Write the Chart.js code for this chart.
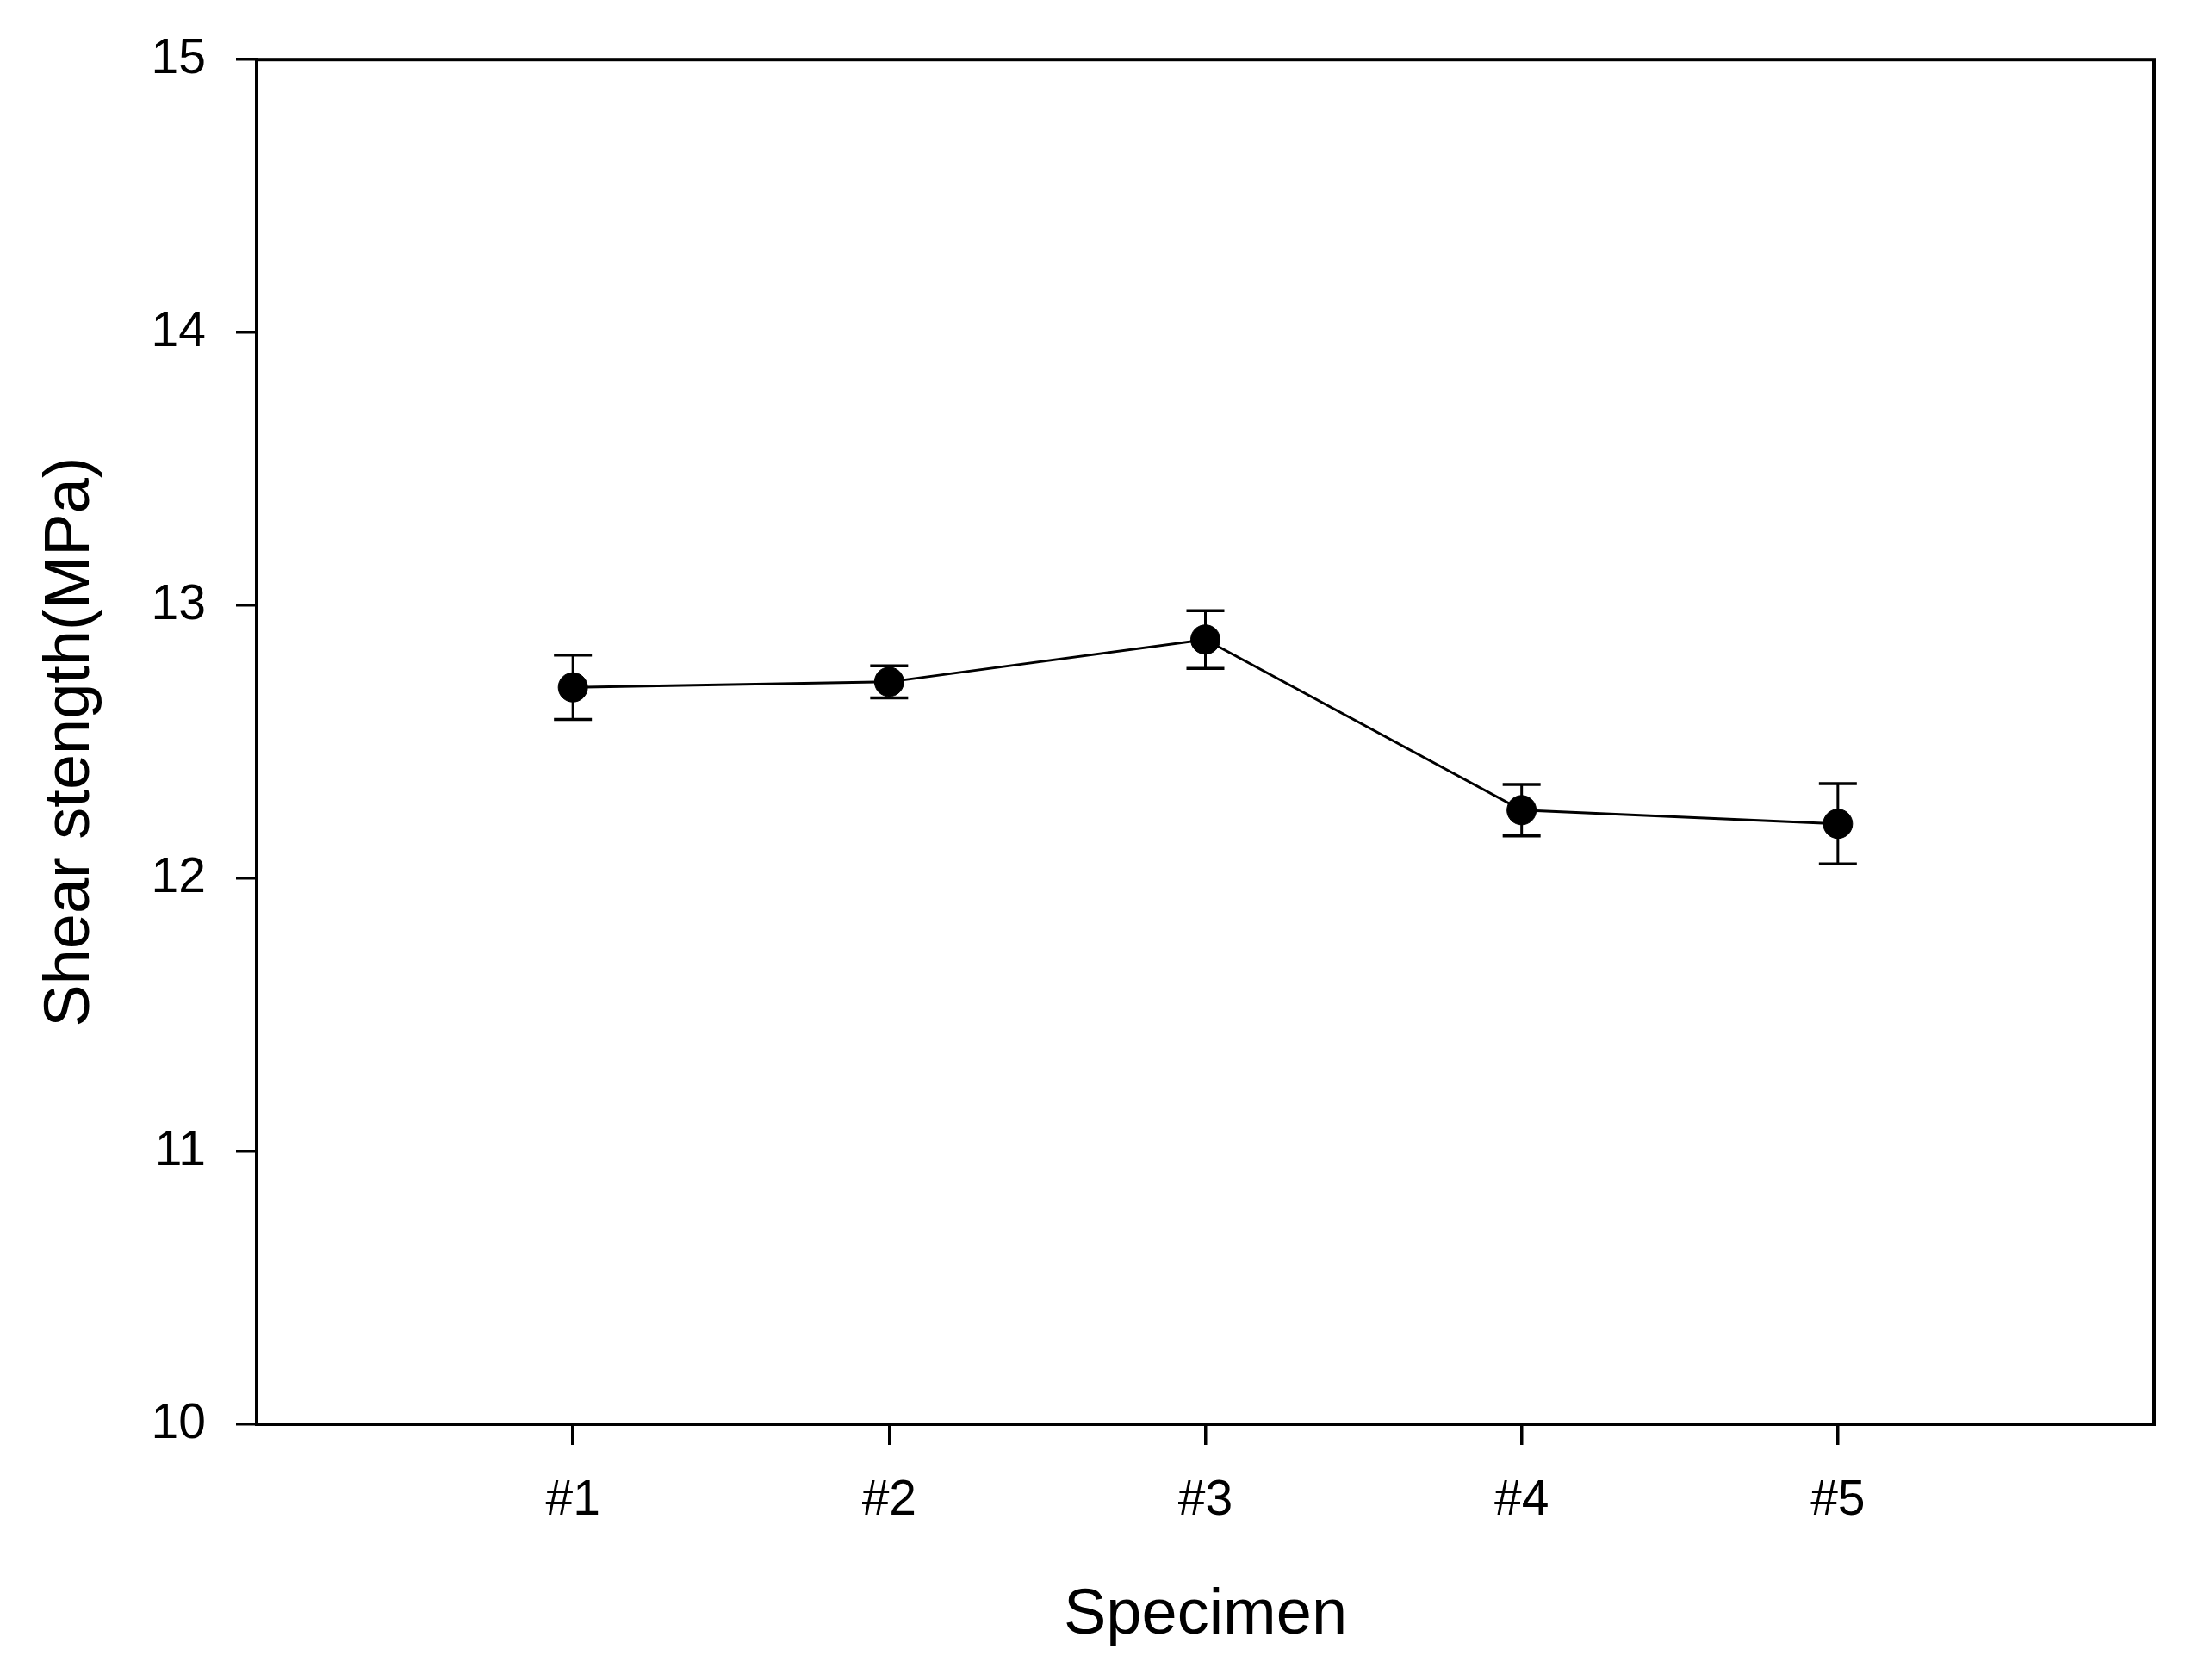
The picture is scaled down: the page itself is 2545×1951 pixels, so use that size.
<!DOCTYPE html>
<html>
<head>
<meta charset="utf-8">
<script src="https://cdn.jsdelivr.net/npm/chart.js@4.4.0/dist/chart.umd.min.js"></script>
<style>
    html, body { margin: 0; padding: 0; background: #fff; }
    #wrap { width: 2545px; height: 1951px; }
</style>
</head>
<body>
<div id="wrap"><canvas id="shearChart" width="2545" height="1951"></canvas></div>
<script>
// data
var categories = ['#1', '#2', '#3', '#4', '#5'];
var strength = [12.70, 12.72, 12.875, 12.25, 12.20];
var strengthErr = [0.118, 0.059, 0.106, 0.094, 0.147];
var yTicks = [10, 11, 12, 13, 14, 15];

var fontFamily = "'Liberation Sans', Arial, sans-serif";

// error bars drawn with the chart's own scales
var errorBars = {
    id: 'errorBars',
    afterDatasetsDraw: function (chart) {
        var xs = chart.scales.x, ys = chart.scales.y, ctx = chart.ctx;
        ctx.save();
        ctx.strokeStyle = '#000';
        strength.forEach(function (v, i) {
            var px = xs.getPixelForValue(i + 1);
            var top = ys.getPixelForValue(v + strengthErr[i]);
            var bot = ys.getPixelForValue(v - strengthErr[i]);
            ctx.lineWidth = 3;
            ctx.beginPath();
            ctx.moveTo(px, top);
            ctx.lineTo(px, bot);
            ctx.stroke();
            ctx.lineWidth = 3.5;
            ctx.beginPath();
            ctx.moveTo(px - 22, top);
            ctx.lineTo(px + 22, top);
            ctx.moveTo(px - 22, bot);
            ctx.lineTo(px + 22, bot);
            ctx.stroke();
        });
        ctx.restore();
    }
};

// closed box around the plot area
var frame = {
    id: 'frame',
    afterDraw: function (chart) {
        var a = chart.chartArea, ctx = chart.ctx;
        ctx.save();
        ctx.strokeStyle = '#000';
        ctx.lineWidth = 4;
        ctx.strokeRect(a.left, a.top, a.right - a.left, a.bottom - a.top);
        ctx.restore();
    }
};

var ctx = document.getElementById('shearChart').getContext('2d');
var shearChart = new Chart(ctx, {
    type: 'line',
    data: {
        datasets: [{
            label: 'Shear strength',
            data: categories.map(function (c, i) { return { x: i + 1, y: strength[i] }; }),
            borderColor: '#000',
            borderWidth: 3,
            pointRadius: 17,
            pointBackgroundColor: '#000',
            pointBorderColor: '#000',
            pointBorderWidth: 1,
            tension: 0,
            fill: false
        }]
    },
    options: {
        responsive: false,
        animation: false,
        layout: { padding: { left: 0, top: 66, right: 44, bottom: 0 } },
        plugins: {
            legend: { display: false },
            tooltip: { enabled: false }
        },
        scales: {
            x: {
                type: 'linear',
                min: 0,
                max: 6,
                afterFit: function (scale) { scale.height = 297; },
                afterBuildTicks: function (axis) {
                    axis.ticks = categories.map(function (c, i) { return { value: i + 1 }; });
                },
                grid: {
                    drawOnChartArea: false,
                    drawTicks: true,
                    tickLength: 24,
                    color: '#000',
                    lineWidth: 3.5
                },
                border: { display: true, color: '#000', width: 4 },
                ticks: {
                    color: '#000',
                    padding: 31,
                    maxRotation: 0,
                    font: { family: fontFamily, size: 57 },
                    callback: function (value) { return categories[value - 1]; }
                },
                title: {
                    display: true,
                    text: 'Specimen',
                    color: '#000',
                    padding: { top: 0, bottom: 30 },
                    font: { family: fontFamily, size: 74 }
                }
            },
            y: {
                min: 10,
                max: 15,
                afterFit: function (scale) { scale.width = 298; },
                afterBuildTicks: function (axis) {
                    axis.ticks = yTicks.map(function (v) { return { value: v }; });
                },
                grid: {
                    drawOnChartArea: false,
                    drawTicks: true,
                    tickLength: 24,
                    color: '#000',
                    lineWidth: 3.5
                },
                border: { display: true, color: '#000', width: 4 },
                ticks: {
                    color: '#000',
                    padding: 35,
                    font: { family: fontFamily, size: 57 }
                },
                title: {
                    display: true,
                    text: 'Shear stength(MPa)',
                    color: '#000',
                    padding: { top: 38, bottom: 0 },
                    font: { family: fontFamily, size: 74 }
                }
            }
        }
    },
    plugins: [errorBars, frame]
});
</script>
</body>
</html>
